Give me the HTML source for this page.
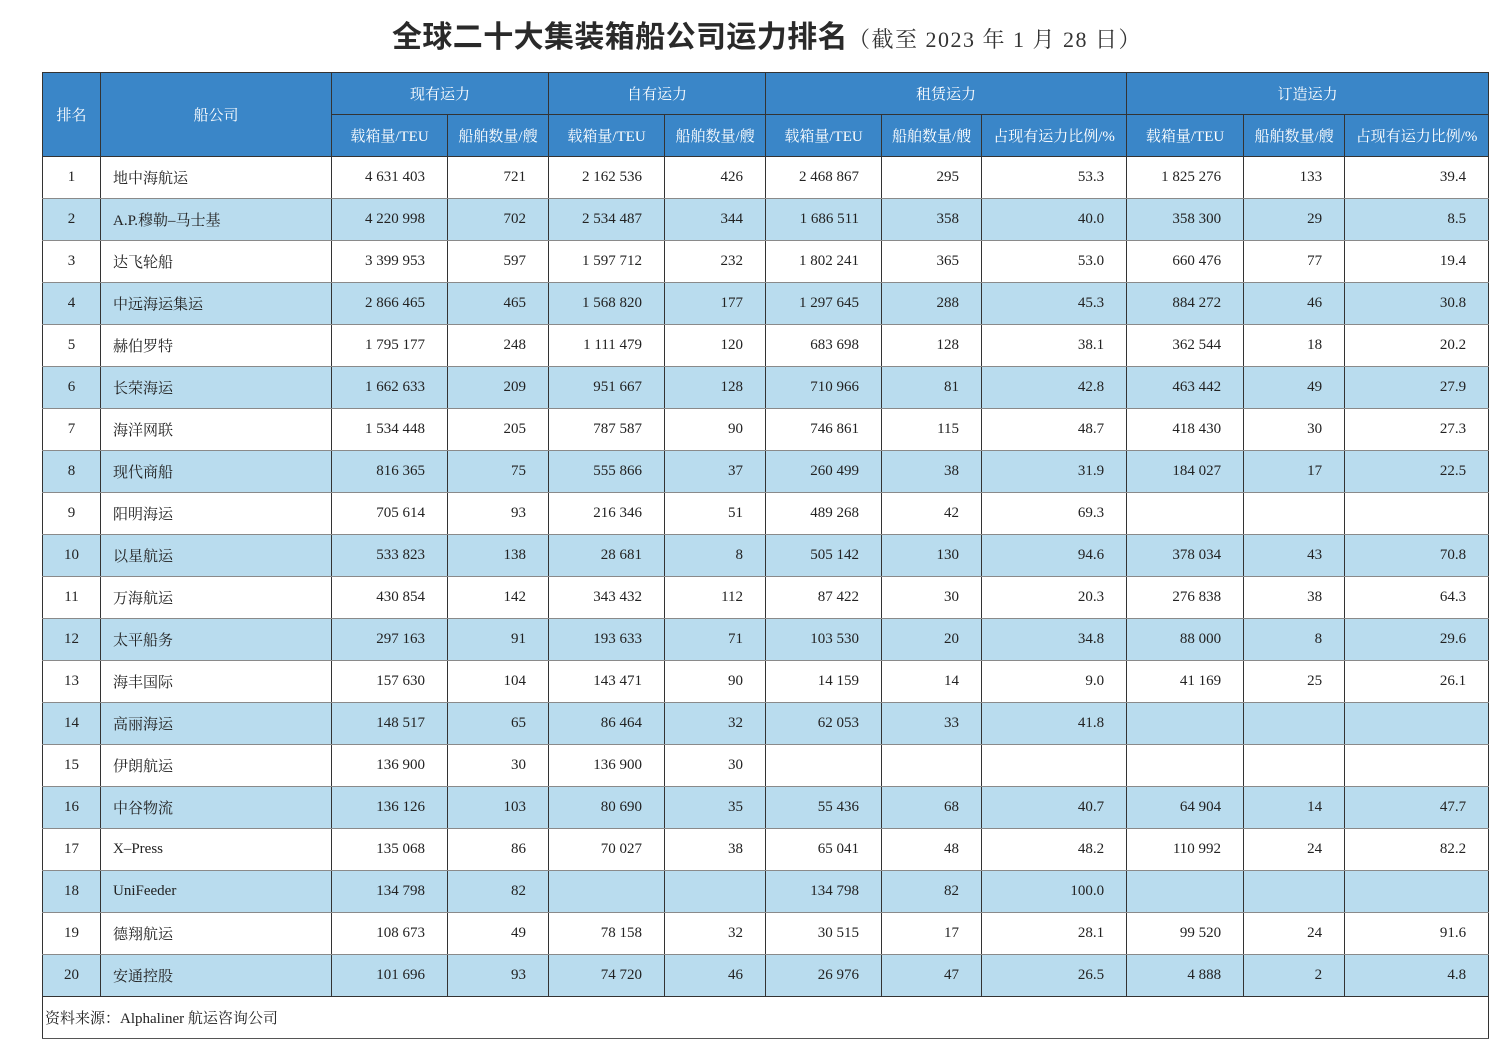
<!DOCTYPE html>
<html><head><meta charset="utf-8"><style>
body{margin:0;width:1500px;height:1057px;background:#fff;position:relative;overflow:hidden;font-family:"Liberation Serif","Noto Serif CJK SC",serif;color:#222}
.title{position:absolute;left:392px;top:12px;white-space:nowrap}
.title .m{font-family:"Liberation Sans","Noto Sans CJK SC",sans-serif;font-size:30px;font-weight:bold;color:#2a2a2a;letter-spacing:0.4px}
.title .s{font-size:22px;color:#333;letter-spacing:1.5px}
table{position:absolute;left:42px;top:72px;border-collapse:collapse;table-layout:fixed;width:1446px}
td,th{box-sizing:border-box;font-size:15px;font-weight:normal;height:42px;padding:0;border-left:1.5px solid #333;border-right:1.5px solid #333;white-space:nowrap}
th{background:#3a86c8;color:#fff;text-align:center;border-top:1.5px solid #333;border-bottom:1.5px solid #333}
td{border-bottom:1px solid #8a8a8a;text-align:right;padding-right:22px}
td.c{text-align:center;padding-right:0}
td.l{text-align:left;padding-left:12px;padding-right:0}
tr.b td{background:#b9dcee}
tr.last td{border-bottom:1.5px solid #333}
td.f{text-align:left;padding-left:2px;border-bottom:1.5px solid #555;background:#fff}
</style></head><body>
<div class="title"><span class="m">全球二十大集装箱船公司运力排名</span><span class="s">（截至 2023 年 1 月 28 日）</span></div>
<table>
<colgroup><col style="width:58px"><col style="width:231px"><col style="width:116px"><col style="width:101px"><col style="width:116px"><col style="width:101px"><col style="width:116px"><col style="width:100px"><col style="width:145px"><col style="width:117px"><col style="width:101px"><col style="width:144px"></colgroup>
<tr><th rowspan="2">排名</th><th rowspan="2">船公司</th><th colspan="2">现有运力</th><th colspan="2">自有运力</th><th colspan="3">租赁运力</th><th colspan="3">订造运力</th></tr>
<tr><th>载箱量/TEU</th><th>船舶数量/艘</th><th>载箱量/TEU</th><th>船舶数量/艘</th><th>载箱量/TEU</th><th>船舶数量/艘</th><th>占现有运力比例/%</th><th>载箱量/TEU</th><th>船舶数量/艘</th><th>占现有运力比例/%</th></tr>
<tr><td class="c">1</td><td class="l">地中海航运</td><td>4 631 403</td><td>721</td><td>2 162 536</td><td>426</td><td>2 468 867</td><td>295</td><td>53.3</td><td>1 825 276</td><td>133</td><td>39.4</td></tr>
<tr class="b"><td class="c">2</td><td class="l">A.P.穆勒–马士基</td><td>4 220 998</td><td>702</td><td>2 534 487</td><td>344</td><td>1 686 511</td><td>358</td><td>40.0</td><td>358 300</td><td>29</td><td>8.5</td></tr>
<tr><td class="c">3</td><td class="l">达飞轮船</td><td>3 399 953</td><td>597</td><td>1 597 712</td><td>232</td><td>1 802 241</td><td>365</td><td>53.0</td><td>660 476</td><td>77</td><td>19.4</td></tr>
<tr class="b"><td class="c">4</td><td class="l">中远海运集运</td><td>2 866 465</td><td>465</td><td>1 568 820</td><td>177</td><td>1 297 645</td><td>288</td><td>45.3</td><td>884 272</td><td>46</td><td>30.8</td></tr>
<tr><td class="c">5</td><td class="l">赫伯罗特</td><td>1 795 177</td><td>248</td><td>1 111 479</td><td>120</td><td>683 698</td><td>128</td><td>38.1</td><td>362 544</td><td>18</td><td>20.2</td></tr>
<tr class="b"><td class="c">6</td><td class="l">长荣海运</td><td>1 662 633</td><td>209</td><td>951 667</td><td>128</td><td>710 966</td><td>81</td><td>42.8</td><td>463 442</td><td>49</td><td>27.9</td></tr>
<tr><td class="c">7</td><td class="l">海洋网联</td><td>1 534 448</td><td>205</td><td>787 587</td><td>90</td><td>746 861</td><td>115</td><td>48.7</td><td>418 430</td><td>30</td><td>27.3</td></tr>
<tr class="b"><td class="c">8</td><td class="l">现代商船</td><td>816 365</td><td>75</td><td>555 866</td><td>37</td><td>260 499</td><td>38</td><td>31.9</td><td>184 027</td><td>17</td><td>22.5</td></tr>
<tr><td class="c">9</td><td class="l">阳明海运</td><td>705 614</td><td>93</td><td>216 346</td><td>51</td><td>489 268</td><td>42</td><td>69.3</td><td></td><td></td><td></td></tr>
<tr class="b"><td class="c">10</td><td class="l">以星航运</td><td>533 823</td><td>138</td><td>28 681</td><td>8</td><td>505 142</td><td>130</td><td>94.6</td><td>378 034</td><td>43</td><td>70.8</td></tr>
<tr><td class="c">11</td><td class="l">万海航运</td><td>430 854</td><td>142</td><td>343 432</td><td>112</td><td>87 422</td><td>30</td><td>20.3</td><td>276 838</td><td>38</td><td>64.3</td></tr>
<tr class="b"><td class="c">12</td><td class="l">太平船务</td><td>297 163</td><td>91</td><td>193 633</td><td>71</td><td>103 530</td><td>20</td><td>34.8</td><td>88 000</td><td>8</td><td>29.6</td></tr>
<tr><td class="c">13</td><td class="l">海丰国际</td><td>157 630</td><td>104</td><td>143 471</td><td>90</td><td>14 159</td><td>14</td><td>9.0</td><td>41 169</td><td>25</td><td>26.1</td></tr>
<tr class="b"><td class="c">14</td><td class="l">高丽海运</td><td>148 517</td><td>65</td><td>86 464</td><td>32</td><td>62 053</td><td>33</td><td>41.8</td><td></td><td></td><td></td></tr>
<tr><td class="c">15</td><td class="l">伊朗航运</td><td>136 900</td><td>30</td><td>136 900</td><td>30</td><td></td><td></td><td></td><td></td><td></td><td></td></tr>
<tr class="b"><td class="c">16</td><td class="l">中谷物流</td><td>136 126</td><td>103</td><td>80 690</td><td>35</td><td>55 436</td><td>68</td><td>40.7</td><td>64 904</td><td>14</td><td>47.7</td></tr>
<tr><td class="c">17</td><td class="l">X–Press</td><td>135 068</td><td>86</td><td>70 027</td><td>38</td><td>65 041</td><td>48</td><td>48.2</td><td>110 992</td><td>24</td><td>82.2</td></tr>
<tr class="b"><td class="c">18</td><td class="l">UniFeeder</td><td>134 798</td><td>82</td><td></td><td></td><td>134 798</td><td>82</td><td>100.0</td><td></td><td></td><td></td></tr>
<tr><td class="c">19</td><td class="l">德翔航运</td><td>108 673</td><td>49</td><td>78 158</td><td>32</td><td>30 515</td><td>17</td><td>28.1</td><td>99 520</td><td>24</td><td>91.6</td></tr>
<tr class="b last"><td class="c">20</td><td class="l">安通控股</td><td>101 696</td><td>93</td><td>74 720</td><td>46</td><td>26 976</td><td>47</td><td>26.5</td><td>4 888</td><td>2</td><td>4.8</td></tr>
<tr><td class="f" colspan="12">资料来源：Alphaliner 航运咨询公司</td></tr>
</table>
</body></html>
